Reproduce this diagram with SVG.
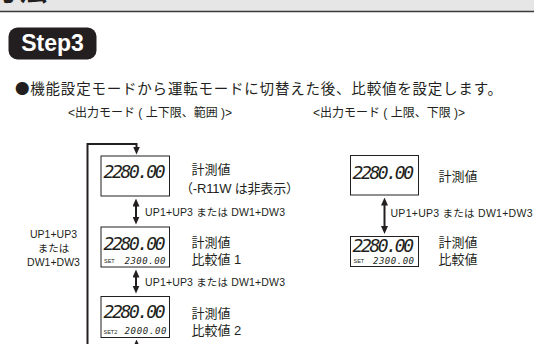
<svg xmlns="http://www.w3.org/2000/svg" width="534" height="344" viewBox="0 0 534 344">
  <style>
    .t { font-family: "Liberation Sans", "Noto Sans CJK JP", sans-serif; fill: #231f20; }
    .cjk { font-family: "Noto Sans CJK JP", sans-serif; }
    .lcd { font-family: "DejaVu Sans Mono", "Liberation Mono", monospace; font-style: italic; fill: #231f20; }
    .box { fill: #ffffff; stroke: #231f20; stroke-width: 1; }
    .conn { fill: none; stroke: #231f20; stroke-width: 2; }
    .lbl { font-size: 10.5px; }
    .name { font-size: 13px; }
    .big { font-size: 18px; }
    .small { font-size: 9px; }
    .set { font-size: 5.5px; }
  </style>
  <defs>
    <marker id="ah" viewBox="0 0 8 7" refX="0.5" refY="3.5" markerWidth="8" markerHeight="7" markerUnits="userSpaceOnUse" orient="auto-start-reverse">
      <path d="M0,0 L8,3.5 L0,7 z" fill="#231f20"/>
    </marker>
  </defs>

  <rect width="534" height="344" fill="#ffffff"/>

  <!-- header band -->
  <g id="header">
    <rect x="0" y="0" width="534" height="11" fill="#e6e6e6"/>
    <line x1="0" y1="11.5" x2="534" y2="11.5" stroke="#3a3a3a" stroke-width="1.5"/>
    <text class="t" x="-9" y="1" font-size="28" font-weight="bold">方法</text>
  </g>

  <!-- Step3 badge -->
  <g id="step3">
    <rect x="8.5" y="27.5" width="88" height="32" rx="9" fill="#231f20"/>
    <text x="52.5" y="50.5" text-anchor="middle" font-family="Liberation Sans, Arial, sans-serif" font-weight="bold" font-size="23" fill="#ffffff">Step3</text>
  </g>

  <!-- intro & headings -->
  <g id="intro">
    <text class="t cjk" x="15" y="94" font-size="14.5" textLength="487">●機能設定モードから運転モードに切替えた後、比較値を設定します。</text>
    <text class="t" x="68" y="117" font-size="12">&lt;出力モード ( 上下限、範囲 )&gt;</text>
    <text class="t" x="313" y="117" font-size="12">&lt;出力モード ( 上限、下限 )&gt;</text>
  </g>

  <!-- connectors -->
  <g id="connectors">
    <path class="conn" d="M87.5,350 V144 H136.5 V147" marker-end="url(#ah)"/>
    <path class="conn" d="M136.5,352 V347" marker-end="url(#ah)"/>
    <line class="conn" x1="136" y1="206" x2="136" y2="217" marker-start="url(#ah)" marker-end="url(#ah)"/>
    <line class="conn" x1="136" y1="277" x2="136" y2="286" marker-start="url(#ah)" marker-end="url(#ah)"/>
    <line class="conn" x1="384.5" y1="205" x2="384.5" y2="226.5" marker-start="url(#ah)" marker-end="url(#ah)"/>
    <text class="t lbl" x="145" y="216" textLength="140">UP1+UP3 または DW1+DW3</text>
    <text class="t lbl" x="145" y="286" textLength="140">UP1+UP3 または DW1+DW3</text>
    <text class="t lbl" x="390.5" y="216.5" textLength="142">UP1+UP3 または DW1+DW3</text>
    <g text-anchor="middle">
      <text class="t lbl" x="53.5" y="237.5">UP1+UP3</text>
      <text class="t lbl" x="53.5" y="252" font-size="9.5">または</text>
      <text class="t lbl" x="53.5" y="265.5">DW1+DW3</text>
    </g>
  </g>

  <!-- left column nodes -->
  <g id="node-L1">
    <rect class="box" x="101" y="156" width="68.5" height="40"/>
    <text class="lcd big" x="103.5" y="178" textLength="62">2280.00</text>
    <text class="t name" x="191.5" y="174">計測値</text>
    <text class="t name" x="180" y="193" textLength="119">（-R11W は非表示）</text>
  </g>
  <g id="node-L2">
    <rect class="box" x="101" y="227" width="68.5" height="40"/>
    <text class="lcd big" x="103.5" y="249.5" textLength="62">2280.00</text>
    <text class="t set" x="104" y="263">SET</text>
    <text class="lcd small" x="124.5" y="263.5" textLength="41">2300.00</text>
    <text class="t name" x="191.5" y="247">計測値</text>
    <text class="t name" x="191.5" y="263.5">比較値 1</text>
  </g>
  <g id="node-L3">
    <rect class="box" x="101" y="296.5" width="68.5" height="41"/>
    <text class="lcd big" x="103.5" y="317.5" textLength="62">2280.00</text>
    <text class="t set" x="103.5" y="333.5">SET2</text>
    <text class="lcd small" x="124.5" y="334" textLength="42">2000.00</text>
    <text class="t name" x="191.5" y="318">計測値</text>
    <text class="t name" x="191.5" y="335">比較値 2</text>
  </g>

  <!-- right column nodes -->
  <g id="node-R1">
    <rect class="box" x="350.5" y="155.5" width="68" height="39.5"/>
    <text class="lcd big" x="352.5" y="179" textLength="61.5">2280.00</text>
    <text class="t name" x="438.5" y="181">計測値</text>
  </g>
  <g id="node-R2">
    <rect class="box" x="350.5" y="236.5" width="68" height="30"/>
    <text class="lcd big" x="352.5" y="251.5" textLength="61.5">2280.00</text>
    <text class="t set" x="353.5" y="262.5">SET</text>
    <text class="lcd small" x="373" y="263.5" textLength="41">2300.00</text>
    <text class="t name" x="438.5" y="246.5">計測値</text>
    <text class="t name" x="438.5" y="264">比較値</text>
  </g>
</svg>
